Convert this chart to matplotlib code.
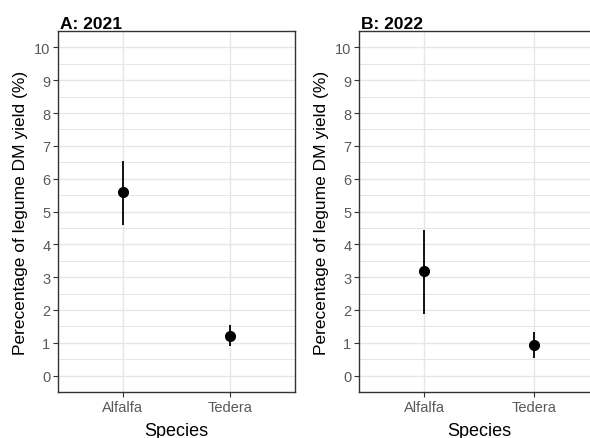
import matplotlib.pyplot as plt
from matplotlib.ticker import MultipleLocator

plt.rcParams['font.family'] = ['Liberation Sans', 'DejaVu Sans']

species = ['Alfalfa', 'Tedera']
panels = ['A: 2021', 'B: 2022']
means_2021 = [5.58, 1.22]
lower_2021 = [4.58, 0.90]
upper_2021 = [6.55, 1.55]
means_2022 = [3.18, 0.92]
lower_2022 = [1.88, 0.55]
upper_2022 = [4.45, 1.32]

GRID = '#E6E6E6'
BORDER = '#333333'
TICKTXT = '#595959'

fig = plt.figure(figsize=(5.9, 4.39), dpi=100, facecolor='white')
ax_a = fig.add_axes([0.0983, 0.1048, 0.4017, 0.8222])
ax_b = fig.add_axes([0.6085, 0.1048, 0.4068, 0.8222])

data = [(means_2021, lower_2021, upper_2021), (means_2022, lower_2022, upper_2022)]

for ax, title, (m, lo, hi) in zip([ax_a, ax_b], panels, data):
    x = list(range(1, len(species) + 1))
    ax.vlines(x, lo, hi, color='black', linewidth=1.3, zorder=3)
    ax.plot(x, m, 'o', color='black', markersize=7, zorder=4)
    ax.set_xlim(0.4, 2.6)
    ax.set_ylim(-0.5, 10.5)
    ax.set_xticks(x)
    ax.set_xticklabels(species)
    ax.yaxis.set_major_locator(MultipleLocator(1))
    ax.yaxis.set_minor_locator(MultipleLocator(0.5))
    ax.grid(which='major', color=GRID, linewidth=1.0, zorder=0)
    ax.grid(which='minor', axis='y', color=GRID, linewidth=0.7, zorder=0)
    ax.set_axisbelow(True)
    ax.tick_params(which='major', length=3.5, width=0.8, color=BORDER,
                   labelcolor=TICKTXT, labelsize=10.5, pad=2)
    ax.tick_params(which='minor', length=0)
    for sp in ax.spines.values():
        sp.set_color(BORDER)
        sp.set_linewidth(1.0)
    ax.set_xlabel('Species', fontsize=13, color='black', labelpad=6)
    ax.set_ylabel('Perecentage of legume DM yield (%)', fontsize=12.5,
                  color='black', labelpad=4)
    ax.set_title(title, loc='left', fontsize=12.5, fontweight='bold',
                 pad=-1, x=0.01)

plt.savefig('out.png', dpi=100)
